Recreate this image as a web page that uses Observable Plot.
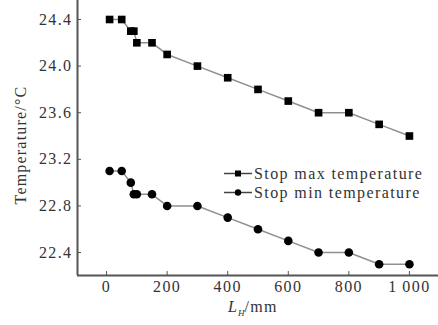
<!DOCTYPE html>
<html>
<head>
<meta charset="utf-8">
<script src="https://cdn.jsdelivr.net/npm/d3@7"></script>
<script src="https://cdn.jsdelivr.net/npm/@observablehq/plot@0.6"></script>
<style>
  html, body { margin: 0; padding: 0; background: #fff; }
  #wrap { position: relative; width: 438px; height: 325px; font-family: "Liberation Serif", "DejaVu Serif", serif; }
  #chart svg text { letter-spacing: 1.4px; }
  #legend { position: absolute; left: 224px; top: 164px; font-size: 16px; color: #333; letter-spacing: 1.4px; }
  .item { display: flex; align-items: center; height: 19px; }
  .item svg { margin-right: 2px; }
  #xlabel { position: absolute; left: 228px; top: 298px; font-size: 16px; color: #333; letter-spacing: 1.2px; white-space: nowrap; }
  #ylabel { position: absolute; left: 21px; top: 145px; transform: translate(-50%, -50%) rotate(-90deg); font-size: 16px; color: #333; white-space: nowrap; letter-spacing: 1.2px; }
</style>
</head>
<body>
<div id="wrap">
  <div id="chart"></div>
  <div id="legend"></div>
  <div id="xlabel"><i>L</i><sub style="font-size:9px;letter-spacing:0"><i>H</i></sub>/mm</div>
  <div id="ylabel">Temperature/°C</div>
</div>
<script>
const lengths = [10, 50, 80, 90, 100, 150, 200, 300, 400, 500, 600, 700, 800, 900, 1000];
const maxTemp = [24.4, 24.4, 24.3, 24.3, 24.2, 24.2, 24.1, 24.0, 23.9, 23.8, 23.7, 23.6, 23.6, 23.5, 23.4];
const minTemp = [23.1, 23.1, 23.0, 22.9, 22.9, 22.9, 22.8, 22.8, 22.7, 22.6, 22.5, 22.4, 22.4, 22.3, 22.3];
const seriesNames = ["Stop max temperature", "Stop min temperature"];
const xTicks = [0, 200, 400, 600, 800, 1000];
const xTickLabels = ["0", "200", "400", "600", "800", "1\u2009000"];
const yTicks = [22.4, 22.8, 23.2, 23.6, 24.0, 24.4];
const xDomain = [-96, 1096];
const yDomain = [22.203, 24.563];

const maxData = lengths.map((x, i) => ({x, y: maxTemp[i]}));
const minData = lengths.map((x, i) => ({x, y: minTemp[i]}));

const axisColor = "#555";
const textColor = "#333";

const plot = Plot.plot({
  width: 438,
  height: 325,
  marginLeft: 77,
  marginBottom: 50,
  marginTop: 0,
  marginRight: 0,
  style: {fontFamily: "Liberation Serif, DejaVu Serif, serif", fontSize: "16px", color: textColor, background: "#fff"},
  x: {domain: xDomain},
  y: {domain: yDomain},
  marks: [
    Plot.ruleX([xDomain[0]], {stroke: axisColor, strokeWidth: 2}),
    Plot.ruleY([yDomain[0]], {stroke: axisColor, strokeWidth: 2}),
    Plot.axisY({ticks: yTicks, tickFormat: d3.format(".1f"), tickSize: -4, tickPadding: 9, stroke: axisColor, fill: textColor, label: null}),
    Plot.axisX({ticks: xTicks, tickFormat: (d) => xTickLabels[xTicks.indexOf(d)], tickSize: -4, tickPadding: 9, stroke: axisColor, fill: textColor, label: null}),
    Plot.line(maxData, {x: "x", y: "y", stroke: "#8f8f8f", strokeWidth: 1.5}),
    Plot.line(minData, {x: "x", y: "y", stroke: "#8f8f8f", strokeWidth: 1.5}),
    Plot.dot(maxData, {x: "x", y: "y", symbol: "square", r: 4.3, fill: "#000"}),
    Plot.dot(minData, {x: "x", y: "y", symbol: "circle", r: 4.3, fill: "#000"})
  ]
});
document.getElementById("chart").appendChild(plot);

const legend = document.getElementById("legend");
seriesNames.forEach((name, i) => {
  const item = document.createElement("div");
  item.className = "item";
  const marker = i === 0
    ? '<rect x="11" y="6.5" width="6" height="6" fill="#000"/>'
    : '<circle cx="14" cy="9.5" r="3.2" fill="#000"/>';
  item.innerHTML = `<svg width="28" height="19"><line x1="0" y1="9.5" x2="28" y2="9.5" stroke="#444" stroke-width="1.5"/>${marker}</svg><span>${name}</span>`;
  legend.appendChild(item);
});
</script>
</body>
</html>
